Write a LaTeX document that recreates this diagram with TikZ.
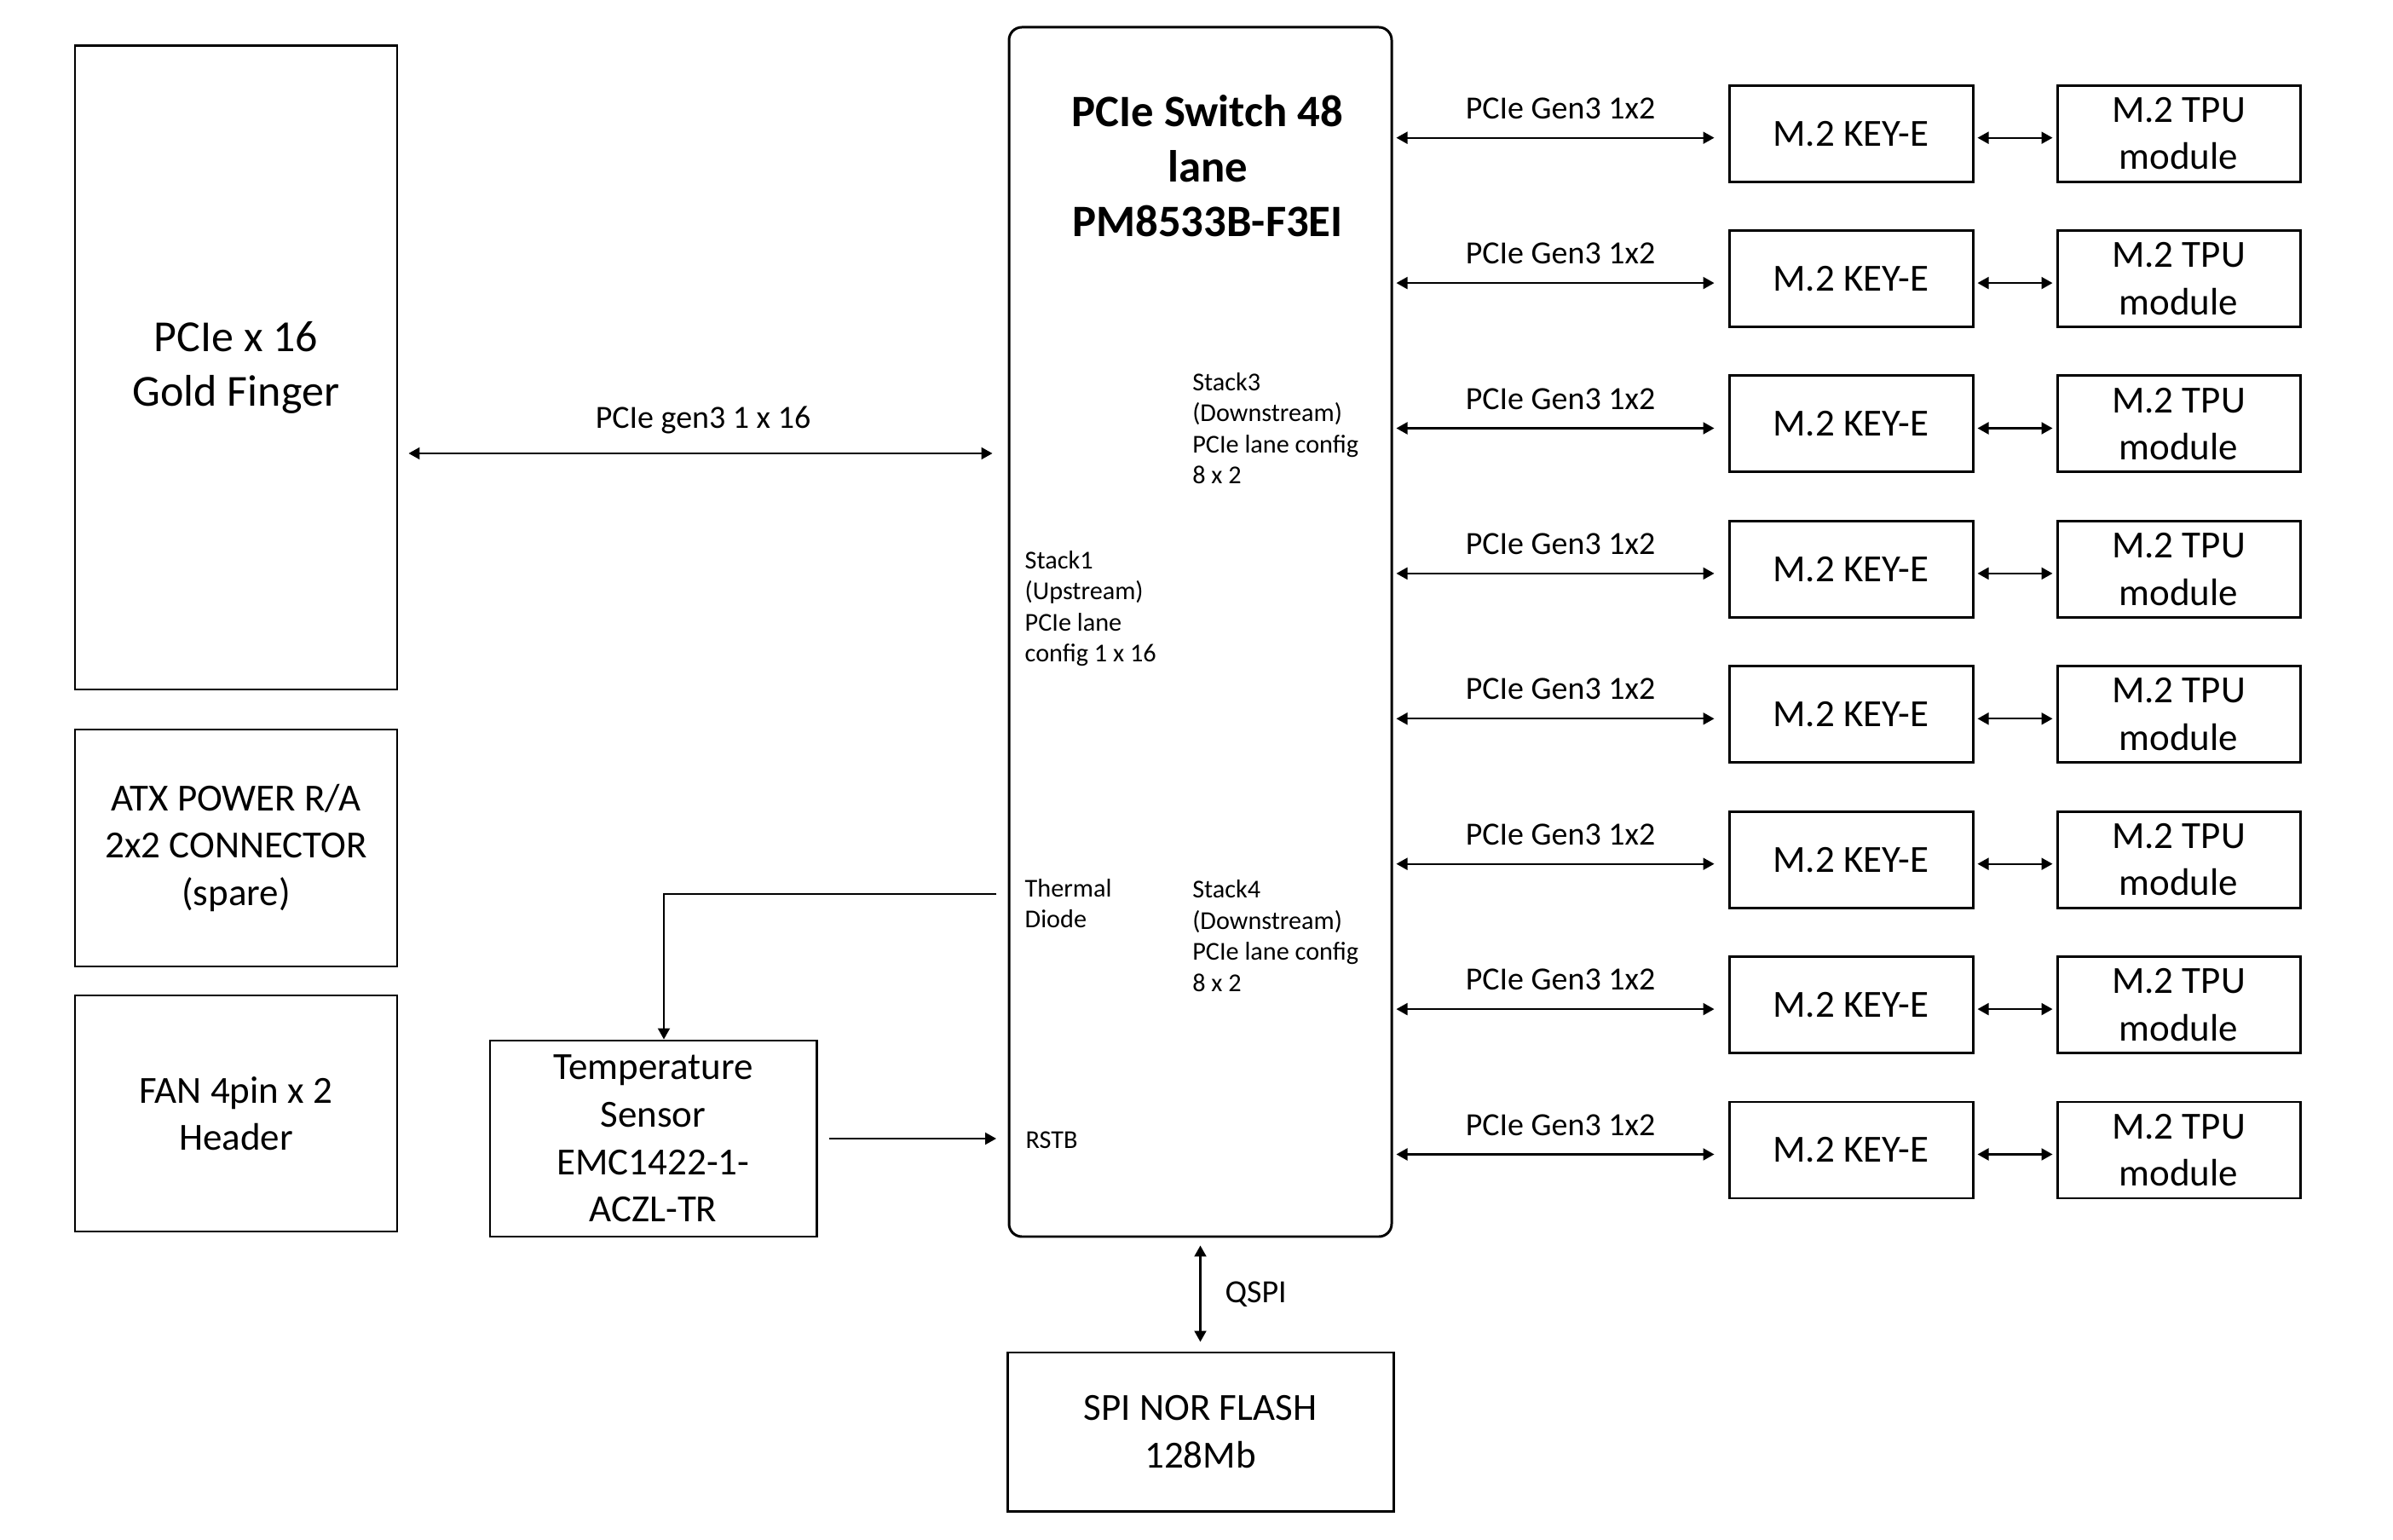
\documentclass[tikz,border=0pt]{standalone}
\usepackage{fontspec}
\setmainfont{Carlito}
\usetikzlibrary{arrows.meta,positioning,calc}

\begin{document}
\begin{tikzpicture}[
		box/.style={draw, line width=0.85pt, inner sep=0pt, align=center, font=\fontsize{12.8pt}{15.8pt}\selectfont},
		lbl/.style={inner sep=0pt, font=\fontsize{10.8pt}{13pt}\selectfont},
		note/.style={inner sep=0pt, align=left, anchor=west, font=\fontsize{8.6pt}{10.36pt}\selectfont},
		biarrow/.style={{Triangle[length=1.3mm,width=1.4mm]}-{Triangle[length=1.3mm,width=1.4mm]}, line width=0.6pt},
		link/.style={-{Triangle[length=1.3mm,width=1.4mm]}, line width=0.6pt}
	]
		\path[fill=white, use as bounding box] (0,0) rectangle (28.08,18.06);
		
		% left column
		\node[box, minimum width=3.78cm, minimum height=7.55cm, font=\fontsize{14.8pt}{18.35pt}\selectfont] (gold) at (2.77,13.745) {PCIe x 16\\Gold Finger};
		\node[box, minimum width=3.78cm, minimum height=2.78cm] (atx) at (2.77,8.11) {ATX POWER R/A\\2x2 CONNECTOR\\(spare)};
		\node[box, minimum width=3.78cm, minimum height=2.77cm] (fan) at (2.77,4.995) {FAN 4pin x 2\\Header};
		\node[box, minimum width=3.83cm, minimum height=2.30cm] (temp) at (7.665,4.70) {Temperature\\Sensor\\EMC1422-1-\\ACZL-TR};
		
		% switch
		\node[box, rounded corners=0.15cm, minimum width=4.49cm, minimum height=14.19cm] (sw) at (14.085,10.645) {};
		\node[inner sep=0pt, align=center, font=\bfseries\fontsize{15pt}{18.35pt}\selectfont] (title) at (14.17,16.11) {PCIe Switch 48\\lane\\PM8533B-F3EI};
		\node[note] (stack3) at (13.986,13.035) {Stack3\\(Downstream)\\PCIe lane config\\8 x 2};
		\node[note] (stack1) at (12.02,10.92) {Stack1\\(Upstream)\\PCIe lane\\config 1 x 16};
		\node[note] (thermal) at (12.02,7.46) {Thermal\\Diode};
		\node[note] (stack4) at (13.986,7.08) {Stack4\\(Downstream)\\PCIe lane config\\8 x 2};
		\node[note] (rstb) at (12.03,4.68) {RSTB};
		
		\node[box, minimum width=4.53cm, minimum height=1.86cm] (flash) at (14.085,1.26) {SPI NOR FLASH\\128Mb};
		
		% M.2 slots
		\foreach \i in {1,...,8} {
			\node[box, minimum width=2.86cm, minimum height=1.13cm] (key\i) at (21.72,{16.493-1.704*(\i-1)}) {M.2 KEY-E};
			\node[box, minimum width=2.85cm, minimum height=1.13cm] (tpu\i) at (25.565,{16.493-1.704*(\i-1)}) {M.2 TPU\\module};
			\draw[biarrow, shorten <=0.4mm, shorten >=1.6mm] ([yshift=-0.5mm]sw.east |- key\i.west) -- node[lbl, above=2.1mm] {PCIe Gen3 1x2} ([yshift=-0.5mm]key\i.west);
			\draw[biarrow, shorten <=0.4mm, shorten >=0.4mm] ([yshift=-0.5mm]key\i.east) -- ([yshift=-0.5mm]tpu\i.west);
		}
		
		% links
		\draw[biarrow, shorten <=1.2mm, shorten >=1.8mm] (gold.east |- 0,12.74) -- node[lbl, above=2.2mm] {PCIe gen3 1 x 16} (sw.west |- 0,12.74);
		\draw[link] ([xshift=-3.3mm]thermal.west |- 0,7.57) -| ([xshift=1.25mm]temp.north);
		\draw[link] ([xshift=1.3mm]temp.east) -- ([xshift=-3.4mm]rstb.west |- temp.east);
		\draw[biarrow, shorten <=0.9mm, shorten >=1.1mm] (sw.south) -- node[lbl, right=2.8mm] {QSPI} (flash.north);
\end{tikzpicture}
\end{document}
